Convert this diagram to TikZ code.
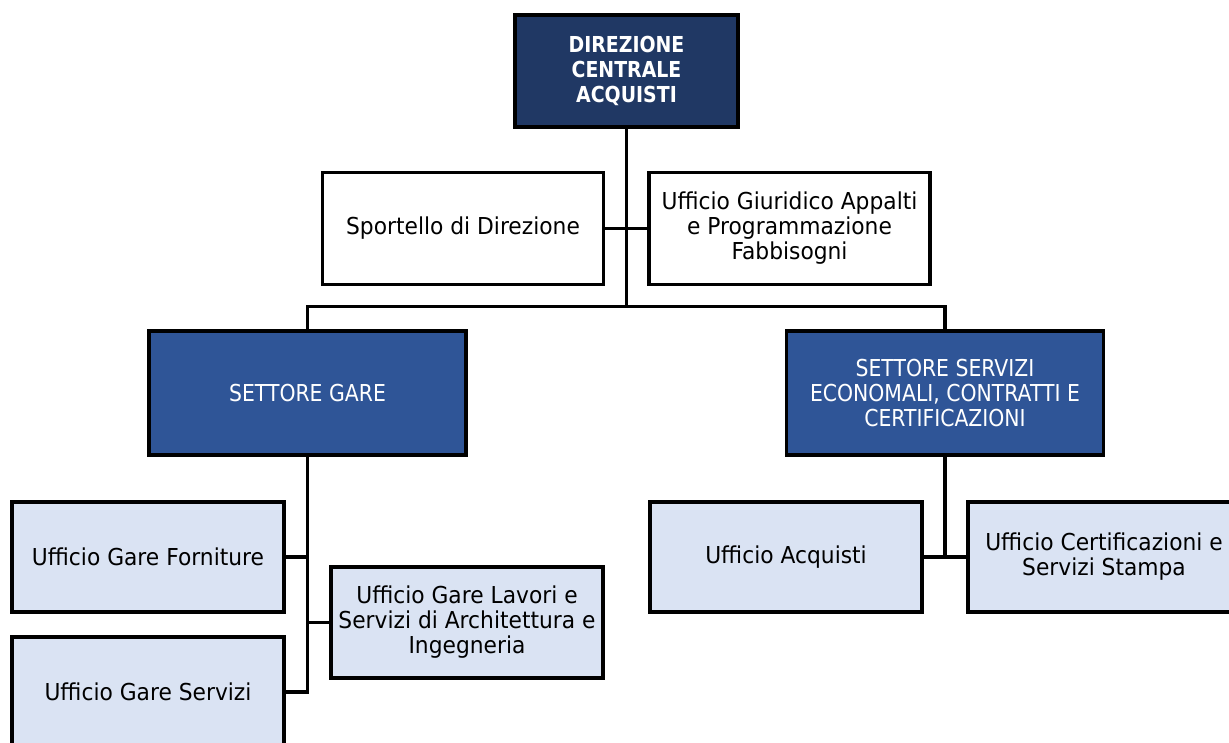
\documentclass[tikz,border=0pt]{standalone}
\usepackage{fontspec}
\setmainfont{DejaVu Sans}[FakeStretch=0.935]
\newfontfamily\boldcond{DejaVu Sans}[FakeStretch=0.86]
\newfontfamily\capsfont{DejaVu Sans}[FakeStretch=0.875]
\definecolor{navy}{HTML}{203864}
\definecolor{midblue}{HTML}{2F5597}
\definecolor{lightblue}{HTML}{DAE3F3}
\tikzset{
  box/.style={draw=black, line width=3.1pt, rectangle, align=center, inner sep=2pt,
    font=\fontsize{23.3}{25}\selectfont},
  topbox/.style={box, fill=navy, text=white, minimum width=223pt, minimum height=112pt,
    font=\fontsize{22}{25}\selectfont\boldcond\bfseries},
  staffbox/.style={box, fill=white, minimum width=281pt, minimum height=111.5pt},
  sectbox/.style={box, fill=midblue, text=white, minimum width=317pt, minimum height=124pt,
    font=\fontsize{23.3}{25}\selectfont\capsfont},
  officebox/.style={box, fill=lightblue, minimum width=272pt, minimum height=110pt},
  link/.style={draw=black, line width=3.2pt, line cap=rect, line join=miter}
}
\begin{document}
\begin{tikzpicture}[x=1pt,y=-1pt]
\useasboundingbox (0,0) rectangle (1229,742);
\fill[white] (0,0) rectangle (1229,742);
\clip (0,0) rectangle (1229,742);

\coordinate (busL) at (307.5,306.5);
\coordinate (busR) at (945,306.5);

\node[topbox] (dca) at (626.5,71) {DIREZIONE\\CENTRALE\\ACQUISTI};
\node[staffbox] (sport) at (463,228.5) {Sportello di Direzione};
\node[staffbox] (giur) at (789.5,228.5) {Ufficio Giuridico Appalti\\e Programmazione\\Fabbisogni};
\node[sectbox] (sgare) at (307.5,393) {SETTORE GARE};
\node[sectbox] (sserv) at (945,393) {SETTORE SERVIZI\\ECONOMALI, CONTRATTI E\\CERTIFICAZIONI};
\node[officebox] (forn) at (148,557) {Ufficio Gare Forniture};
\node[officebox] (gserv) at (148,692) {Ufficio Gare Servizi};
\node[officebox, minimum height=111pt] (lav) at (467,622.5) {Ufficio Gare Lavori e\\Servizi di Architettura e\\Ingegneria};
\node[officebox] (acq) at (786,557) {Ufficio Acquisti};
\node[officebox] (cert) at (1104,557) {Ufficio Certificazioni e\\Servizi Stampa};

\draw[link] (dca.south) -- (dca.south |- busL);
\draw[link] (sgare.north) -- (busL) -- (busR) -- (sserv.north);
\draw[link] (sport.east) -- (giur.west);

\draw[link] (sgare.south) -- (sgare.south |- gserv.east) -- (gserv.east);
\draw[link] (forn.east) -- (forn.east -| sgare.south);
\draw[link] (lav.west) -- (lav.west -| sgare.south);

\draw[link] (sserv.south) -- (sserv.south |- acq.east);
\draw[link] (acq.east) -- (cert.west);
\end{tikzpicture}
\end{document}
